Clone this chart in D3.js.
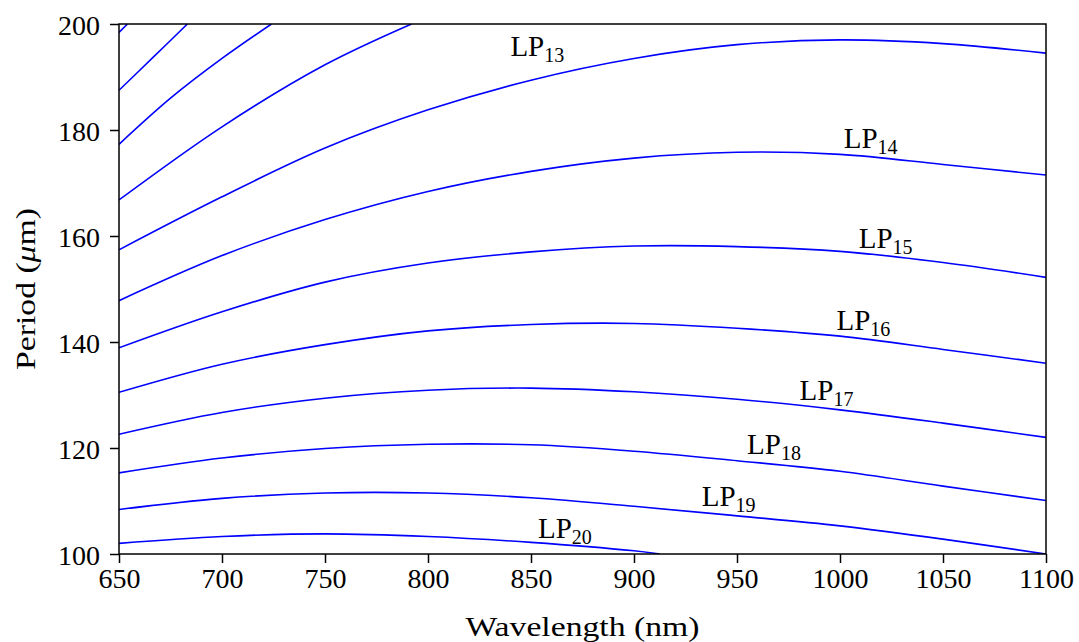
<!DOCTYPE html>
<html>
<head>
<meta charset="utf-8">
<script src="https://cdn.jsdelivr.net/npm/d3@7"></script>
<style>
	body{margin:0;background:#fff;}
	text{font-family:"Liberation Serif","Times New Roman",serif;fill:#000;}
</style>
</head>
<body>
<script>
//period vs wavelength for the LP cladding modes

//axis ticks
var xTicks=[650,700,750,800,850,900,950,1000,1050,1100];
var yTicks=[100,120,140,160,180,200];

//each mode as [wavelength nm, period um], curves that leave the frame stop at the edge
var lp9=[[650,198.4],[654.1,200]];
var lp10=[[650,187.5],[666,193.5],[683.2,200]];
var lp11=[[650,177.3],[675,186.0],[700,193.5],[724,200]];
var lp12=[[650,166.8],[700,180.6],[750,192.3],[792,200]];
var lp13=[[650,157.4],[700,167.4],[750,176.6],[800,183.8],[850,189.4],[900,193.5],[950,196.1],[1000,197.0],[1050,196.3],[1100,194.5]];
var lp14=[[650,147.8],[700,156.3],[750,163.1],[800,168.4],[850,172.2],[900,174.7],[950,175.8],[1000,175.4],[1050,173.5],[1100,171.5]];
var lp15=[[650,138.9],[700,145.7],[750,151.3],[800,154.9],[850,157.0],[900,158.1],[950,158.0],[1000,157.1],[1050,155.0],[1100,152.2]];
var lp16=[[650,130.5],[700,135.8],[750,139.5],[800,142.1],[850,143.3],[900,143.5],[950,142.6],[1000,141.1],[1050,138.6],[1100,136.0]];
var lp17=[[650,122.6],[700,126.7],[750,129.4],[800,130.9],[850,131.3],[900,130.6],[950,129.2],[1000,127.2],[1050,124.7],[1100,122.0]];
var lp18=[[650,115.3],[700,118.1],[750,119.9],[800,120.7],[850,120.6],[900,119.4],[950,117.6],[1000,115.6],[1050,112.8],[1100,110.1]];
var lp19=[[650,108.4],[700,110.5],[750,111.5],[800,111.5],[850,110.6],[900,109.0],[950,107.2],[1000,105.3],[1050,102.8],[1100,100.0]];
var lp20=[[650,102.0],[700,103.3],[750,103.8],[800,103.3],[850,102.2],[900,100.6],[912.6,100.0]];

//mode labels: subscript number and where the label sits (data units)
var labelModes=[13,14,15,16,17,18,19,20];
var labelX=[840,1001.8,1009.1,998.3,980.4,954.9,932.9,853.4];
var labelY=[193.96,176.66,157.68,142.26,129.06,118.87,109.06,102.96];

window.onload=drawChart();

function drawChart(){
	var width=1079,
		height=642;
	var margin={top:24,right:33,bottom:88,left:119};
	var w=width-margin.left-margin.right,
		h=height-margin.top-margin.bottom;

	var svg=d3.select("body")
		.append("svg")
		.attr("width",width)
		.attr("height",height);

	var g=svg.append("g")
		.attr("transform","translate("+margin.left+","+margin.top+")");

	var x=d3.scaleLinear().domain([650,1100]).range([0,w]);
	var y=d3.scaleLinear().domain([100,200]).range([h,0]);

	//clip the curves to the frame
	svg.append("defs").append("clipPath")
		.attr("id","plotclip")
		.append("rect")
		.attr("width",w)
		.attr("height",h);

	//catmull-rom goes through the read points without flattening the tops
	var line=d3.line()
		.x(function(d){return x(d[0]);})
		.y(function(d){return y(d[1]);})
		.curve(d3.curveCatmullRom);

	var allModes=[lp9,lp10,lp11,lp12,lp13,lp14,lp15,lp16,lp17,lp18,lp19,lp20];

	g.append("g")
		.attr("clip-path","url(#plotclip)")
		.selectAll(".mode")
		.data(allModes)
		.enter()
		.append("path")
		.attr("class","mode")
		.attr("d",line)
		.attr("fill","none")
		.attr("stroke","#0000ff")
		.attr("stroke-width",1.6);

	//axes, plain integers (no thousands comma)
	var xAxis=g.append("g")
		.attr("transform","translate(0,"+h+")")
		.call(d3.axisBottom(x).tickValues(xTicks).tickFormat(d3.format("d")).tickSize(9).tickPadding(5));
	var yAxis=g.append("g")
		.call(d3.axisLeft(y).tickValues(yTicks).tickFormat(d3.format("d")).tickSize(9).tickPadding(10));

	[xAxis,yAxis].forEach(function(a){
		a.select(".domain").remove();
		a.selectAll(".tick line").attr("stroke","#000").attr("stroke-width",1.5);
		a.selectAll(".tick text")
			.style("font-family","'Liberation Serif',serif")
			.style("font-size","28px")
			.attr("fill","#000");
	});
	yAxis.selectAll(".tick text").attr("dy","0.38em");

	//frame
	g.append("rect")
		.attr("width",w)
		.attr("height",h)
		.attr("fill","none")
		.attr("stroke","#000")
		.attr("stroke-width",1.5);

	//mode labels
	var labels=g.selectAll(".lplabel")
		.data(labelModes)
		.enter()
		.append("text")
		.attr("class","lplabel")
		.attr("x",function(d,i){return x(labelX[i]);})
		.attr("y",function(d,i){return y(labelY[i]);})
		.style("font-size","29px");
	labels.append("tspan").text("LP");
	labels.append("tspan")
		.attr("dy",6)
		.style("font-size","20px")
		.text(function(d){return d;});

	//axis titles, stretched a little to the width of the original lettering
	g.append("text")
		.attr("x",w/2)
		.attr("y",h+82)
		.attr("text-anchor","middle")
		.attr("textLength",234)
		.attr("lengthAdjust","spacingAndGlyphs")
		.style("font-size","28px")
		.text("Wavelength (nm)");

	var yt=svg.append("text")
		.attr("transform","translate(35,"+(margin.top+h/2)+") rotate(-90)")
		.attr("text-anchor","middle")
		.attr("textLength",162)
		.attr("lengthAdjust","spacingAndGlyphs")
		.style("font-size","28px");
	yt.append("tspan").text("Period (");
	yt.append("tspan").style("font-style","italic").text("μ");
	yt.append("tspan").text("m)");
};
</script>
</body>
</html>
